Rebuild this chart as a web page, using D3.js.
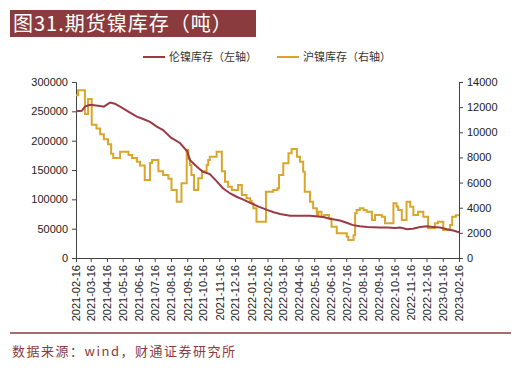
<!DOCTYPE html>
<html>
<head>
<meta charset="utf-8">
<script src="https://cdn.jsdelivr.net/npm/d3@7"></script>
<style>
  body { margin: 0; background: #fff; }
  svg { display: block; font-family: "Liberation Sans", Arial, sans-serif; }
</style>
</head>
<body>
<svg id="chart" width="521" height="370"></svg>
<script>
// 伦镍库存（左轴）
var lmeDates = ['2021-02-16','2021-02-27','2021-03-05','2021-03-15','2021-04-03','2021-04-10','2021-04-22','2021-05-01',
    '2021-05-11','2021-05-26','2021-06-12','2021-06-24','2021-07-07','2021-07-20','2021-08-01','2021-08-16',
    '2021-09-02','2021-09-16','2021-09-21','2021-10-05','2021-10-16','2021-10-29','2021-11-10','2021-11-23',
    '2021-12-07','2021-12-20','2021-12-31','2022-01-14','2022-01-29','2022-02-15','2022-02-28','2022-03-12',
    '2022-03-31','2022-04-19','2022-05-08','2022-06-02','2022-06-15','2022-07-04','2022-07-17','2022-07-29',
    '2022-08-11','2022-08-25','2022-09-18','2022-10-02','2022-10-17','2022-10-27','2022-11-09','2022-11-20',
    '2022-12-04','2022-12-17','2022-12-28','2023-01-11','2023-01-24','2023-02-05','2023-02-16'];
var lmeValues = [250000,251000,258000,261000,259000,258000,265000,263000,
    258000,250000,241000,237000,232000,224000,218000,205000,
    196000,182000,167000,155000,147000,143000,132000,119000,
    110000,104000,100000,94000,88000,82000,78000,75000,
    72000,72000,72000,70000,67000,64000,60000,56000,
    54000,53000,52000,52000,51000,52000,49000,50000,
    53000,54000,53000,52000,49000,47000,44000];

// 沪镍库存（右轴）
var shfeDates = ['2021-02-16','2021-02-20','2021-03-05','2021-03-11','2021-03-18','2021-03-27','2021-04-03','2021-04-10',
    '2021-04-18','2021-04-24','2021-04-28','2021-05-11','2021-05-27','2021-06-03','2021-06-12','2021-06-18',
    '2021-06-27','2021-07-07','2021-07-11','2021-07-23','2021-08-01','2021-08-11','2021-08-17','2021-08-27',
    '2021-09-05','2021-09-15','2021-09-18','2021-09-21','2021-09-24','2021-09-29','2021-10-07','2021-10-14',
    '2021-10-23','2021-10-26','2021-10-29','2021-11-11','2021-11-21','2021-11-27','2021-12-03','2021-12-10',
    '2021-12-22','2021-12-29','2022-01-07','2022-01-14','2022-01-17','2022-01-20','2022-01-26','2022-02-13',
    '2022-02-27','2022-03-07','2022-03-10','2022-03-18','2022-03-28','2022-04-03','2022-04-13','2022-04-19',
    '2022-04-25','2022-04-28','2022-05-08','2022-05-14','2022-05-21','2022-05-24','2022-05-30','2022-06-04',
    '2022-06-13','2022-06-18','2022-06-28','2022-07-17','2022-07-20','2022-07-30','2022-08-02','2022-08-05',
    '2022-08-11','2022-08-18','2022-08-24','2022-09-03','2022-09-09','2022-09-22','2022-09-28','2022-10-14',
    '2022-10-20','2022-10-23','2022-10-30','2022-11-08','2022-11-15','2022-11-21','2022-11-30','2022-12-10',
    '2022-12-19','2023-01-01','2023-01-07','2023-01-17','2023-01-30','2023-02-03','2023-02-10','2023-02-16'];
var shfeValues = [12950,13350,11450,12650,10600,10300,9850,9450,
    9050,8300,7950,8450,8200,7950,7650,7350,
    6200,7550,7800,6900,6600,6300,5400,4480,
    5950,8600,7900,7400,6600,5400,6350,6900,
    7400,7800,8060,8460,6900,6070,5670,5410,
    5810,5010,4750,4530,4350,3950,2890,5270,
    5410,5540,6600,7530,8330,8670,8060,7660,
    6870,5270,4480,3950,3420,3680,3290,3420,
    3160,2490,1970,1700,1430,1800,3560,3820,
    3950,3820,3680,3020,3420,3290,2760,4350,
    4100,3820,3020,4480,4080,3420,3680,3290,
    2360,2760,2890,2230,2625,3290,3400,3400];

var leftTicks = [0, 50000, 100000, 150000, 200000, 250000, 300000];
var rightTicks = [0, 2000, 4000, 6000, 8000, 10000, 12000, 14000];
var xTickDates = ['2021-02-16','2021-03-16','2021-04-16','2021-05-16','2021-06-16','2021-07-16','2021-08-16',
    '2021-09-16','2021-10-16','2021-11-16','2021-12-16','2022-01-16','2022-02-16','2022-03-16','2022-04-16',
    '2022-05-16','2022-06-16','2022-07-16','2022-08-16','2022-09-16','2022-10-16','2022-11-16','2022-12-16',
    '2023-01-16','2023-02-16'];

var titleText = '图31.期货镍库存（吨）';
var sourceText = '数据来源：wind，财通证券研究所';
var seriesNames = ['伦镍库存（左轴）', '沪镍库存（右轴）'];

(function() {
    var red = '#9b3a44', gold = '#d9a62b', dark = '#8a3b3d';
    var parse = d3.timeParse('%Y-%m-%d');
    var svg = d3.select('#chart');

    var mLeft = 76, mRight = 459, mTop = 82, mBottom = 258;

    var x = d3.scaleTime()
        .domain([parse(xTickDates[0]), parse(xTickDates[xTickDates.length - 1])])
        .range([mLeft, mRight]);
    var yL = d3.scaleLinear().domain([0, 300000]).range([mBottom, mTop]);
    var yR = d3.scaleLinear().domain([0, 14000]).range([mBottom, mTop]);

    // title bar
    svg.append('rect')
        .attr('x', 10).attr('y', 10).attr('width', 246).attr('height', 27)
        .attr('fill', dark);
    svg.append('text')
        .attr('x', 13).attr('y', 31)
        .attr('fill', '#fff')
        .attr('font-family', '"Noto Sans CJK SC", sans-serif')
        .attr('font-size', 20).attr('letter-spacing', 1)
        .text(titleText);

    // legend
    var legend = [[143, red], [277, gold]];
    legend.forEach(function(l, i) {
        svg.append('line')
            .attr('x1', l[0]).attr('x2', l[0] + 22)
            .attr('y1', 57).attr('y2', 57)
            .attr('stroke', l[1]).attr('stroke-width', 2);
        svg.append('text')
            .attr('x', l[0] + 26).attr('y', 61)
            .attr('font-family', '"Noto Sans CJK SC", sans-serif')
            .attr('font-size', 11).attr('fill', '#333')
            .text(seriesNames[i]);
    });

    // axes
    var axL = svg.append('g')
        .attr('transform', 'translate(' + mLeft + ',0)')
        .call(d3.axisLeft(yL).tickValues(leftTicks).tickSize(4).tickFormat(d3.format('d')));
    var axR = svg.append('g')
        .attr('transform', 'translate(' + mRight + ',0)')
        .call(d3.axisRight(yR).tickValues(rightTicks).tickSize(4).tickFormat(d3.format('d')));
    var axX = svg.append('g')
        .attr('transform', 'translate(0,' + mBottom + ')')
        .call(d3.axisBottom(x).tickValues(xTickDates.map(parse)).tickSize(4)
            .tickFormat(d3.timeFormat('%Y-%m-%d')));

    [axL, axR, axX].forEach(function(g) {
        g.select('.domain').attr('stroke', '#444');
        g.selectAll('.tick line').attr('stroke', '#444');
        g.selectAll('.tick text')
            .attr('font-family', '"Liberation Sans", Arial, sans-serif')
            .attr('font-size', 11).attr('fill', '#222');
    });
    axL.selectAll('.tick text').attr('x', -8);
    axR.selectAll('.tick text').attr('x', 8);
    axX.selectAll('.tick text')
        .attr('transform', 'rotate(-90)')
        .attr('text-anchor', 'end')
        .attr('x', -7).attr('y', 0).attr('dy', '0.35em');

    // lines
    var shfe = shfeDates.map(function(d, i) { return [parse(d), shfeValues[i]]; });
    var lme = lmeDates.map(function(d, i) { return [parse(d), lmeValues[i]]; });

    svg.append('path')
        .datum(shfe)
        .attr('fill', 'none').attr('stroke', gold).attr('stroke-width', 2)
        .attr('d', d3.line().curve(d3.curveStepAfter)
            .x(function(d) { return x(d[0]); })
            .y(function(d) { return yR(d[1]); }));

    svg.append('path')
        .datum(lme)
        .attr('fill', 'none').attr('stroke', red).attr('stroke-width', 2)
        .attr('d', d3.line()
            .x(function(d) { return x(d[0]); })
            .y(function(d) { return yL(d[1]); }));

    // footer
    svg.append('line')
        .attr('x1', 10).attr('x2', 511).attr('y1', 333).attr('y2', 333)
        .attr('stroke', dark).attr('stroke-width', 1.5);
    svg.append('text')
        .attr('x', 12).attr('y', 356)
        .attr('font-family', '"Noto Sans CJK SC", sans-serif')
        .attr('font-size', 13).attr('letter-spacing', 1.5).attr('fill', dark)
        .text(sourceText);
})();
</script>
</body>
</html>
